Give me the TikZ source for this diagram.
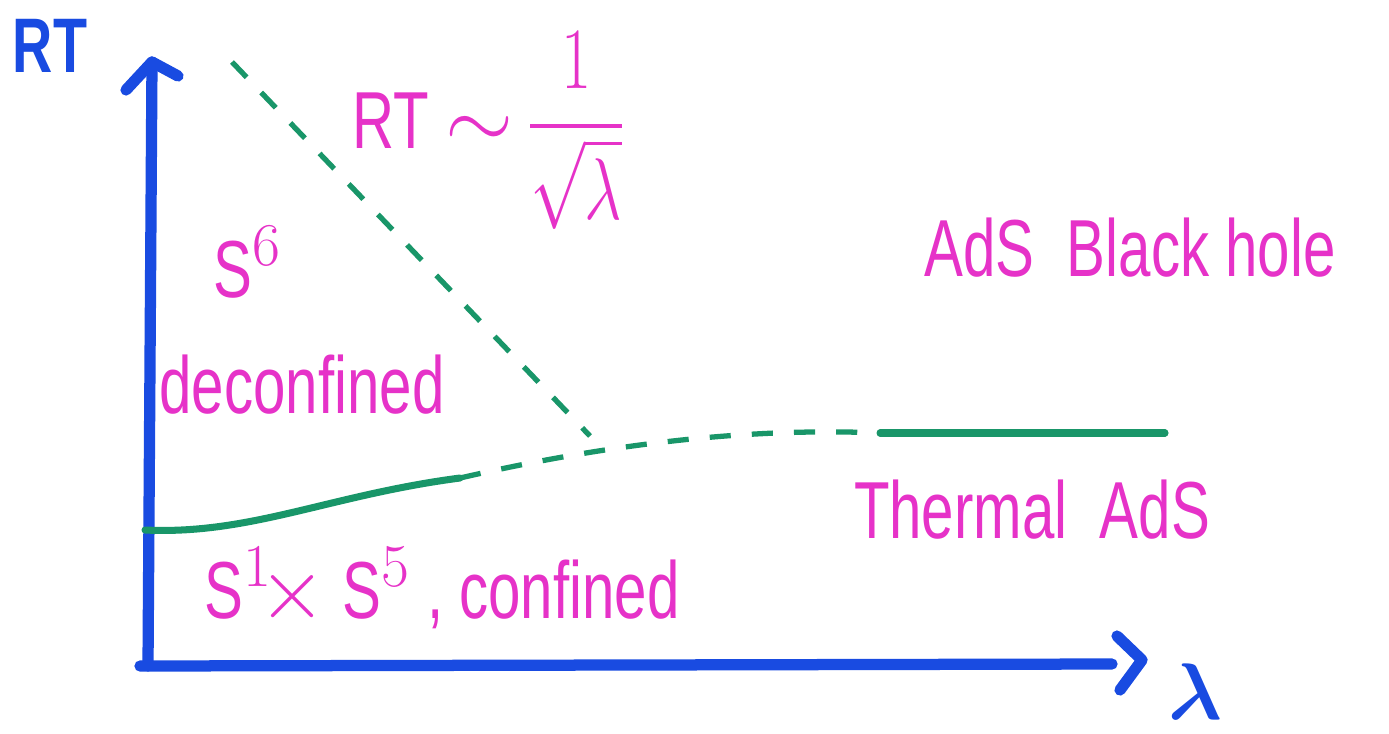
\documentclass[tikz,border=0pt]{standalone}
\usepackage{fontspec}
\setmainfont{Liberation Sans}[FakeStretch=0.72]
\usepackage{amsmath}
\definecolor{penblue}{RGB}{25,75,225}
\definecolor{penpink}{RGB}{230,50,200}
\definecolor{pengreen}{RGB}{25,150,105}
\tikzset{
  axisline/.style={penblue,line width=3.2pt,line cap=round,line join=round},
  phaseline/.style={pengreen,line width=2pt,line cap=round},
  phasedash/.style={pengreen,line width=1.5pt,dash pattern=on 6pt off 6pt},
  pinklabel/.style={text=penpink,font=\fontsize{23}{25}\selectfont,inner sep=0pt},
  bluelabel/.style={text=penblue,font=\fontsize{22}{24}\selectfont\bfseries,inner sep=0pt}
}
\begin{document}
\begin{tikzpicture}[x=0.01cm,y=-0.01cm]
\useasboundingbox (0,0) rectangle (1389,733);
% axes
\coordinate (O) at (148,666);
\coordinate (ytop) at (152,62);
\coordinate (xend) at (1112,664);
\draw[axisline] (O) -- (ytop);
\draw[axisline] (126,90) -- (ytop) -- (178,76);
\draw[axisline] (140,666) -- (xend);
\draw[axisline] (1117,636) -- (1142,660) -- (1120,690);
\node[bluelabel] (rt) at (50,46) {RT};
\node[bluelabel] (lam) at (1195,692) {\scalebox{1.1}{$\boldsymbol{\lambda}$}};
% phase boundaries
\coordinate (top) at (232,62);
\coordinate (tri) at (590,436);
\coordinate (mid) at (460,478);
\coordinate (c1) at (880,433);
\coordinate (left) at (145,530);
\coordinate (right) at (1165,433);
\draw[phasedash] (top) -- (tri);
\draw[phasedash] (mid) .. controls (530,462) and (700,425) .. (c1);
\draw[phaseline] (left) .. controls (250,535) and (330,495) .. (mid);
\draw[phaseline] (c1) -- (right);
% labels
\node[pinklabel,anchor=base west] (rtlaw) at (352,148) {RT $\sim$\,\scalebox{0.75}[1]{$\dfrac{1}{\sqrt{\lambda}}$}};
\node[pinklabel] (s6) at (248,262) {S$^{6}$};
\node[pinklabel] (dec) at (302,385) {deconfined};
\node[pinklabel] (bh) at (1130,248) {AdS \ Black hole};
\node[pinklabel] (tads) at (1032,510) {Thermal \ AdS};
\node[pinklabel] (conf) at (442,588) {S$^{1}\!\times$ S$^{5}$ , confined};
\end{tikzpicture}
\end{document}
